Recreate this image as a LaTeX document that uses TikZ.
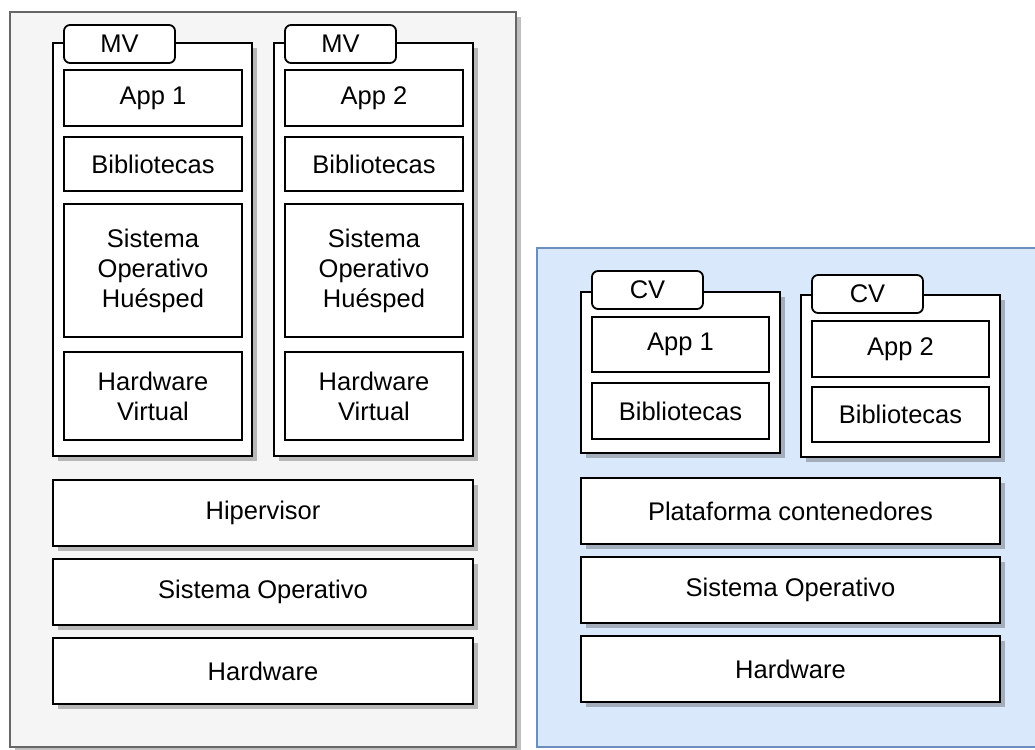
\documentclass[tikz,border=0pt]{standalone}
\usepackage{fontspec}
\setmainfont{Liberation Sans}
\usetikzlibrary{shadows}
\definecolor{panelgray}{HTML}{F5F5F5}
\definecolor{panelline}{HTML}{666666}
\definecolor{panelblue}{HTML}{DAE8FC}
\definecolor{blueline}{HTML}{6C8EBF}

\begin{document}
\begin{tikzpicture}[x=1pt,y=-1pt,
  every node/.style={rectangle,inner sep=0pt,align=center,font=\fontsize{25.5}{30}\selectfont},
  boxshadow/.style={drop shadow={shadow xshift=5pt,shadow yshift=-5pt,fill=black,opacity=0.25}},
  panel/.style={draw=panelline,fill=panelgray,line width=2pt,boxshadow},
  bluepanel/.style={draw=blueline,fill=panelblue,line width=2pt},
  layer/.style={draw,fill=white,line width=1.8pt,minimum width=420pt,minimum height=66pt,boxshadow},
  vmbox/.style={draw,fill=white,line width=1.8pt,minimum width=199pt,boxshadow},
  tabbox/.style={draw,fill=white,line width=1.8pt,rounded corners=6pt,minimum width=111pt,minimum height=38pt},
  partbox/.style={draw,fill=white,line width=1.8pt,minimum width=178pt}]
  \useasboundingbox (0,0) rectangle (1035,749);
  % maquinas virtuales
  \node[panel,minimum width=506pt,minimum height=735pt] (LeftPanel) at (263,379.5) {};
  \node[vmbox,minimum height=413pt] (MV1) at (152.5,249.5) {};
  \node[vmbox,minimum height=413pt] (MV2) at (373.5,249.5) {};
  \node[tabbox] (MV1tab) at (119.5,44) {MV};
  \node[tabbox] (MV2tab) at (340.5,44) {MV};
  \node[partbox,minimum height=56pt] (App1) at (153,98) {App 1};
  \node[partbox,minimum height=54pt] (Bib1) at (153,164) {Bibliotecas};
  \node[partbox,minimum height=133pt] (SOH1) at (153,270.5) {Sistema\\Operativo\\Huésped};
  \node[partbox,minimum height=88pt] (HWV1) at (153,396) {Hardware\\Virtual};
  \node[partbox,minimum height=56pt] (App2) at (374,98) {App 2};
  \node[partbox,minimum height=54pt] (Bib2) at (374,164) {Bibliotecas};
  \node[partbox,minimum height=133pt] (SOH2) at (374,270.5) {Sistema\\Operativo\\Huésped};
  \node[partbox,minimum height=88pt] (HWV2) at (374,396) {Hardware\\Virtual};
  \node[layer] (Hiper) at (263,513) {Hipervisor};
  \node[layer] (SOleft) at (263,592) {Sistema Operativo};
  \node[layer] (HWleft) at (263,671) {Hardware};
  % contenedores
  \node[bluepanel,minimum width=505pt,minimum height=499pt] (RightPanel) at (789.5,497.5) {};
  \node[vmbox,minimum height=161pt] (CV1) at (680.5,372.5) {};
  \node[vmbox,minimum height=162pt] (CV2) at (900.5,376) {};
  \node[tabbox] (CV1tab) at (647.5,290) {CV};
  \node[tabbox] (CV2tab) at (867.5,294) {CV};
  \node[partbox,minimum width=177pt,minimum height=55pt] (CApp1) at (680.5,344.5) {App 1};
  \node[partbox,minimum width=177pt,minimum height=56pt] (CBib1) at (680.5,411) {Bibliotecas};
  \node[partbox,minimum width=177pt,minimum height=56pt] (CApp2) at (900.5,349) {App 2};
  \node[partbox,minimum width=177pt,minimum height=55pt] (CBib2) at (900.5,414.5) {Bibliotecas};
  \node[layer,minimum width=419pt] (Plataforma) at (790.5,511) {Plataforma contenedores};
  \node[layer,minimum width=419pt] (SOright) at (790.5,590) {Sistema Operativo};
  \node[layer,minimum width=419pt] (HWright) at (790.5,669) {Hardware};
\end{tikzpicture}
\end{document}
